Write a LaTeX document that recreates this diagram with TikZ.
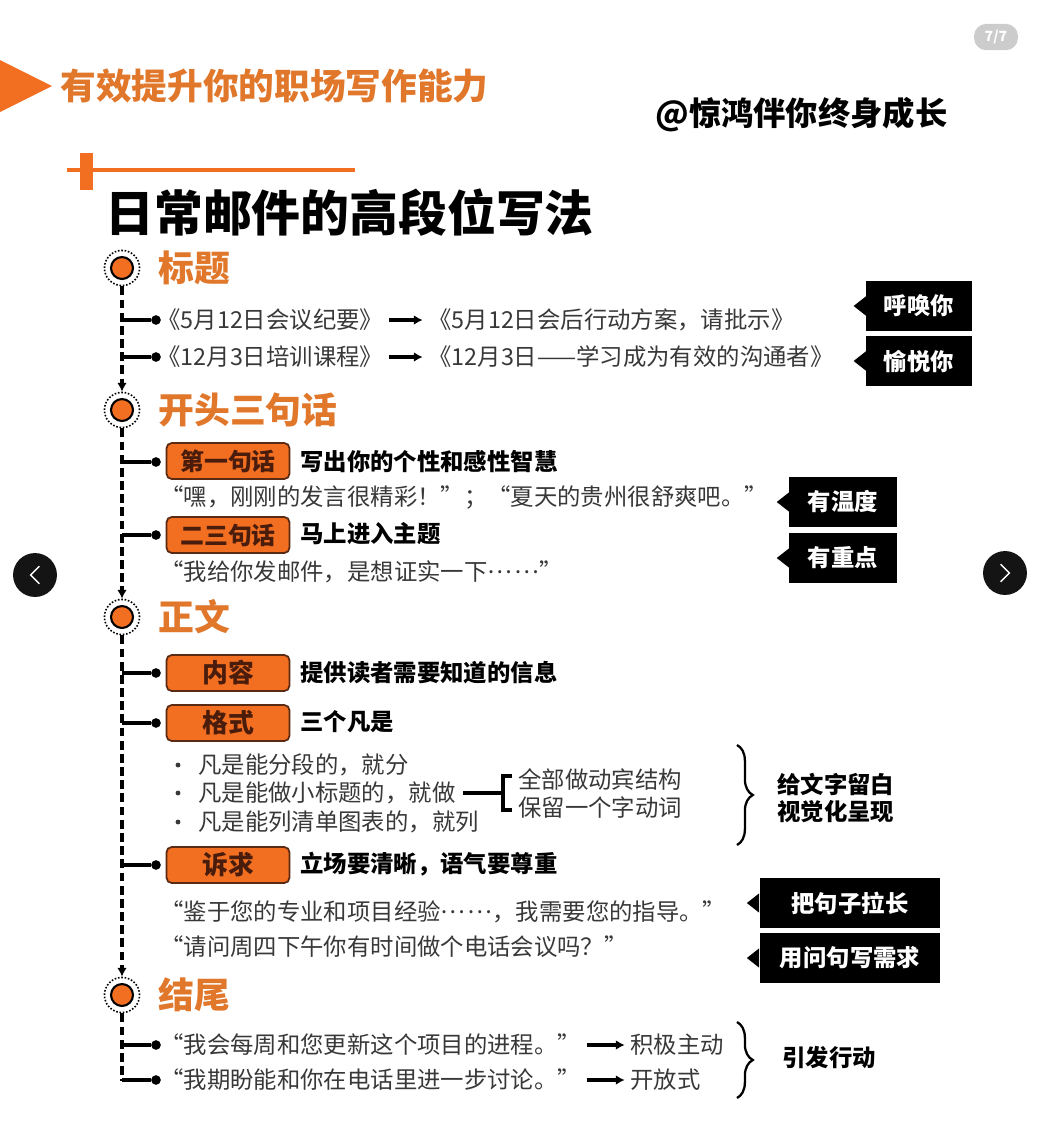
\documentclass[tikz,border=0pt]{standalone}
\usepackage{fontspec}
\setmainfont{Noto Sans CJK SC}
\usepackage{tikz}
\usetikzlibrary{arrows.meta,decorations.pathreplacing}
\definecolor{orgfill}{HTML}{F26F21}
\definecolor{orgtext}{HTML}{E0772B}
\definecolor{boxedge}{HTML}{5A2A12}
\definecolor{boxtext}{HTML}{4A1C0C}
\definecolor{bodytext}{HTML}{383838}
\newcommand{\middots}{\raisebox{0.32em}{…\kern0.1em…}}

\begin{document}
\begin{tikzpicture}[x=0.02cm, y=-0.02cm,
	every node/.style={inner sep=0pt, text=bodytext},
	>={Latex[length=5pt,width=5.5pt]},
	body/.style={anchor=west, font=\fontsize{13.3}{16}\selectfont},
	keyline/.style={anchor=west, font=\fontsize{13.3}{16}\selectfont\bfseries, text=black},
	sect/.style={anchor=west, font=\fontsize{20.4}{24}\selectfont\bfseries, text=orgtext},
	tagbox/.style={draw=boxedge, line width=1pt, fill=orgfill, rounded corners=3pt, minimum width=70pt, minimum height=20.5pt, text=boxtext, font=\fontsize{13.6}{16}\selectfont\bfseries},
	callout/.style={fill=black, text=white, minimum height=28.5pt, font=\fontsize{13.3}{16}\selectfont\bfseries},
	ring/.style={circle, draw=black, densely dotted, line width=0.9pt, minimum size=20pt},
	hub/.style={circle, draw=black, fill=orgfill, line width=1.2pt, minimum size=12.5pt},
	knob/.style={circle, fill=black, minimum size=5.5pt},
	trunk/.style={line width=2pt, dash pattern=on 5pt off 2.5pt},
	twig/.style={line width=1.8pt},
	link/.style={line width=2pt, ->},
	bracebar/.style={decorate, decoration={brace, amplitude=9pt}, line width=1.3pt},
	navbtn/.style={circle, fill=black!92, minimum size=25pt}]
	\useasboundingbox (0,0) rectangle (1042,1144);

	\fill[orgfill] (0,60) -- (52,86) -- (0,112) -- cycle;
	\node[anchor=west, text=orgtext, font=\fontsize{20.3}{24}\selectfont\bfseries] (title) at (60,86) {有效提升你的职场写作能力};
	\node[anchor=west, text=black, font=\fontsize{18.4}{22}\selectfont\bfseries] (mark) at (655,115) {@惊鸿伴你终身成长};
	\node[fill=black!20, rounded corners=7pt, minimum width=25pt, minimum height=15pt, text=white, font=\fontsize{8}{9}\selectfont\bfseries\itshape] (page) at (996,37) {7/7};
	\node[navbtn] (navL) at (35,575) {};
	\node[navbtn] (navR) at (1005,573) {};
	\draw[white, line width=0.8pt] ([xshift=2.5pt,yshift=5pt]navL.center) -- ([xshift=-2.5pt]navL.center) -- ([xshift=2.5pt,yshift=-5pt]navL.center);
	\draw[white, line width=0.8pt] ([xshift=-2.5pt,yshift=5pt]navR.center) -- ([xshift=2.5pt]navR.center) -- ([xshift=-2.5pt,yshift=-5pt]navR.center);

	\draw[orgfill, line width=2.3pt] (67,170) -- (355,170);
	\fill[orgfill] (80,153) rectangle (93,190);
	\node[anchor=west, text=black, font=\fontsize{27.8}{32}\selectfont\bfseries] (head) at (105,213) {日常邮件的高段位写法};

	\foreach \y [count=\i] in {268,410,617,995} {
		\node[ring] (h\i) at (122,\y) {};
		\node[hub] (h\i c) at (122,\y) {};
	}
	\draw[trunk, ->] (h1) -- (h2);
	\draw[trunk, ->] (h2) -- (h3);
	\draw[trunk, ->] (h3) -- (h4);
	\coordinate (tail) at (122,1081);
	\draw[trunk] (h4) -- (tail);
	\foreach \y [count=\i] in {320,357,462,535,673,723,865,1045,1080} {
		\coordinate (s\i) at (122,\y);
		\node[knob] (k\i) at (156,\y) {};
		\draw[twig] (s\i) -- (k\i);
	}

	\node[sect] (sec1) at (158,268) {标题};
	\node[sect] (sec2) at (158,410) {开头三句话};
	\node[sect] (sec3) at (158,617) {正文};
	\node[sect] (sec4) at (158,995) {结尾};

	\node[body] (t1) at (157,320) {《5月12日会议纪要》};
	\node[body] (t1b) at (428,320) {《5月12日会后行动方案，请批示》};
	\node[body] (t2) at (157,357) {《12月3日培训课程》};
	\node[body] (t2b) at (428,357) {《12月3日——学习成为有效的沟通者》};
	\draw[link] ([xshift=3pt]t1.east) -- ([xshift=-3pt]t1b.west);
	\draw[link] ([xshift=3pt]t2.east) -- ([xshift=-3pt]t2b.west);

	\node[tagbox] (g1) at (228,461) {第一句话};
	\node[keyline] (g1t) at (300,462) {写出你的个性和感性智慧};
	\node[body] (g1q) at (160,497) {“嘿，刚刚的发言很精彩！”；“夏天的贵州很舒爽吧。”};
	\node[tagbox] (g2) at (228,535) {二三句话};
	\node[keyline] (g2t) at (300,534) {马上进入主题};
	\node[body] (g2q) at (160,572) {“我给你发邮件，是想证实一下\middots”};

	\node[tagbox, font=\fontsize{14.7}{17}\selectfont\bfseries] (b1) at (228,673) {内容};
	\node[keyline] (b1t) at (300,673) {提供读者需要知道的信息};
	\node[tagbox, font=\fontsize{14.7}{17}\selectfont\bfseries] (b2) at (228,723) {格式};
	\node[keyline] (b2t) at (300,722) {三个凡是};
	\foreach \y/\txt [count=\i] in {765/凡是能分段的，就分, 793/凡是能做小标题的，就做, 822/凡是能列清单图表的，就列} {
		\fill[bodytext] (178,\y) circle (1.4pt);
		\node[body] (f\i) at (198,\y) {\txt};
	}
	\coordinate (brk) at (503,793);
	\draw[line width=1.8pt] (f2.east) ++(4pt,0) -- (brk);
	\draw[line width=1.8pt] (512,776) -- (503,776) -- (503,810) -- (512,810);
	\node[body] (v1) at (518,779) {全部做动宾结构};
	\node[body] (v2) at (518,808) {保留一个字动词};
	\draw[bracebar] (737,745) -- (737,845);
	\node[keyline] (w1) at (777,784) {给文字留白};
	\node[keyline] (w2) at (777,812) {视觉化呈现};
	\node[tagbox, font=\fontsize{14.7}{17}\selectfont\bfseries] (b3) at (228,865) {诉求};
	\node[keyline] (b3t) at (300,864) {立场要清晰，语气要尊重};
	\node[body] (b3q) at (160,912) {“鉴于您的专业和项目经验\middots，我需要您的指导。”};
	\node[body] (b3r) at (160,947) {“请问周四下午你有时间做个电话会议吗？”};

	\node[body] (e1) at (160,1045) {“我会每周和您更新这个项目的进程。”};
	\node[body] (e1b) at (630,1045) {积极主动};
	\node[body] (e2) at (160,1080) {“我期盼能和你在电话里进一步讨论。”};
	\node[body] (e2b) at (630,1080) {开放式};
	\draw[link] ([xshift=3pt]e1.east) -- ([xshift=-3pt]e1b.west);
	\draw[link] ([xshift=3pt]e2.east) -- ([xshift=-3pt]e2b.west);
	\draw[bracebar] (737,1022) -- (737,1098);
	\node[keyline] (act) at (782,1058) {引发行动};

	\node[callout, minimum width=60pt] (c1) at (919,306) {呼唤你};
	\node[callout, minimum width=60pt] (c2) at (919,361) {愉悦你};
	\node[callout, minimum width=61pt] (c3) at (843,502) {有温度};
	\node[callout, minimum width=61pt] (c4) at (843,558) {有重点};
	\node[callout, minimum width=103pt] (c5) at (850,903) {把句子拉长};
	\node[callout, minimum width=103pt] (c6) at (850,958) {用问句写需求};
	\foreach \c in {c1,c2,c3,c4,c5,c6}
		\fill ([yshift=5.5pt]\c.west) -- ([xshift=-7pt]\c.west) -- ([yshift=-5.5pt]\c.west) -- cycle;
\end{tikzpicture}
\end{document}
